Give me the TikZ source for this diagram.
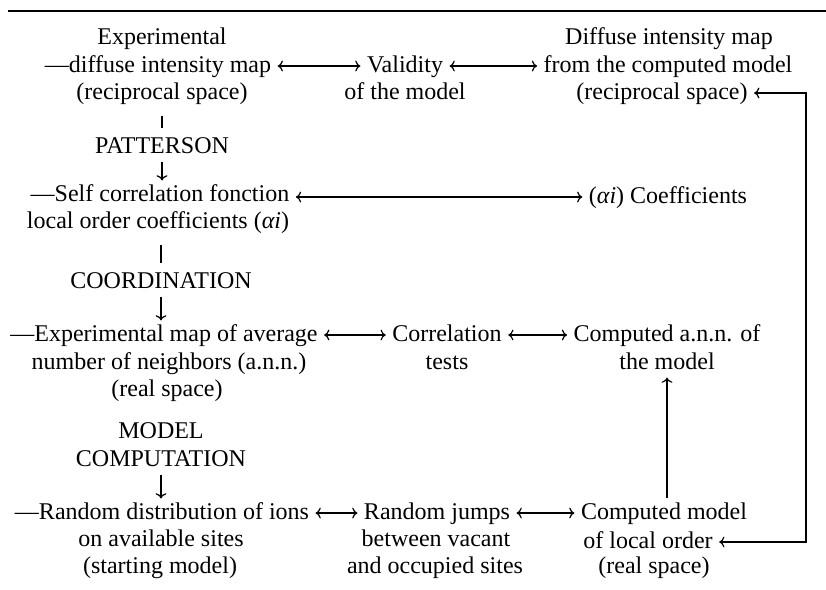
\documentclass[tikz,border=0pt]{standalone}
\usepackage{fontspec}
\setmainfont{Liberation Serif}
\usetikzlibrary{arrows.meta}

\tikzset{
  lbl/.style={inner xsep=3pt, inner ysep=1pt, text height=9pt, text depth=3pt,
              font=\fontsize{12}{14}\selectfont},
  bar/.style={shorten <=4pt, shorten >=2pt},
}

\begin{document}
\begin{tikzpicture}[x=0.5pt, y=-0.5pt, line width=0.6pt, >={To[length=2.6pt, width=5.4pt]}]
    \useasboundingbox (0,0) rectangle (826,590);
    \draw (8,11) -- (826,11);  % rule over the chart

    % experimental side, top row
    \node[lbl] (exp1) at (162,38) {Experimental};
    \node[lbl] (exp) at (158,66) {—diffuse intensity map};
    \node[lbl] (exp3) at (162,93) {(reciprocal space)};
    \node[lbl] (valid) at (405,66) {Validity};
    \node[lbl] (valid2) at (405,93) {of the model};
    \node[lbl] (dmod1) at (669,38) {Diffuse intensity map};
    \node[lbl] (dmod) at (668,66) {from the computed model};
    \node[lbl] (dmod3) at (662,93) {(reciprocal space)};

    \node[lbl] (patt) at (162,147) {PATTERSON};

    % correlation function
    \node[lbl] (self1) at (160,195) {—Self correlation fonction};
    \node[lbl] (self2) at (158,222) {local order coefficients (\textit{αi})};
    \node[lbl] (coef) at (668,197) {(\textit{αi}) Coefficients};

    \node[lbl] (coord) at (161,282) {COORDINATION};

    % average number of neighbors
    \node[lbl] (map1) at (164,335) {—Experimental map of average};
    \node[lbl] (map2) at (169,363) {number of neighbors (a.n.n.)};
    \node[lbl] (map3) at (167,390) {(real space)};
    \node[lbl] (corr1) at (447,335) {Correlation};
    \node[lbl] (corr2) at (447,363) {tests};
    \node[lbl] (cann1) at (667,335) {Computed a.n.n. of};
    \node[lbl] (cann2) at (667,363) {the model};

    \node[lbl] (modc1) at (161,432) {MODEL};
    \node[lbl] (modc2) at (161,460) {COMPUTATION};

    % model computation, bottom row
    \node[lbl] (rand1) at (162,513) {—Random distribution of ions};
    \node[lbl] (rand2) at (161,540) {on available sites};
    \node[lbl] (rand3) at (160,567) {(starting model)};
    \node[lbl] (jump1) at (437,513) {Random jumps};
    \node[lbl] (jump2) at (436,540) {between vacant};
    \node[lbl] (jump3) at (435,567) {and occupied sites};
    \node[lbl] (cmod1) at (664,513) {Computed model};
    \node[lbl] (cmod2) at (648,542) {of local order};
    \node[lbl] (cmod3) at (654,567) {(real space)};

    % flow down the left column
    \draw[bar] (exp3) -- (exp3 |- patt.north);
    \draw[->] (patt) -- (patt |- self1.north);
    \draw[bar] (coord |- self2.south) -- (coord);
    \draw[->] (coord) -- (coord |- map1.north);
    \draw[->] (modc2) -- (modc2 |- rand1.north);
    \draw[->] (cann2 |- cmod1.north) -- (cann2);

    % comparisons along the rows
    \draw[<->] (exp) -- (valid);
    \draw[<->] (valid) -- (dmod);
    \draw[<->] (self1.east |- coef) -- (coef);
    \draw[<->] (map1) -- (corr1);
    \draw[<->] (corr1) -- (cann1);
    \draw[<->] (rand1) -- (jump1);
    \draw[<->] (jump1) -- (cmod1);

    % return loop on the right
    \coordinate (loop) at (806,0);
    \draw[<->] (dmod3) -- (dmod3 -| loop) -- (cmod2 -| loop) -- (cmod2);
\end{tikzpicture}
\end{document}
